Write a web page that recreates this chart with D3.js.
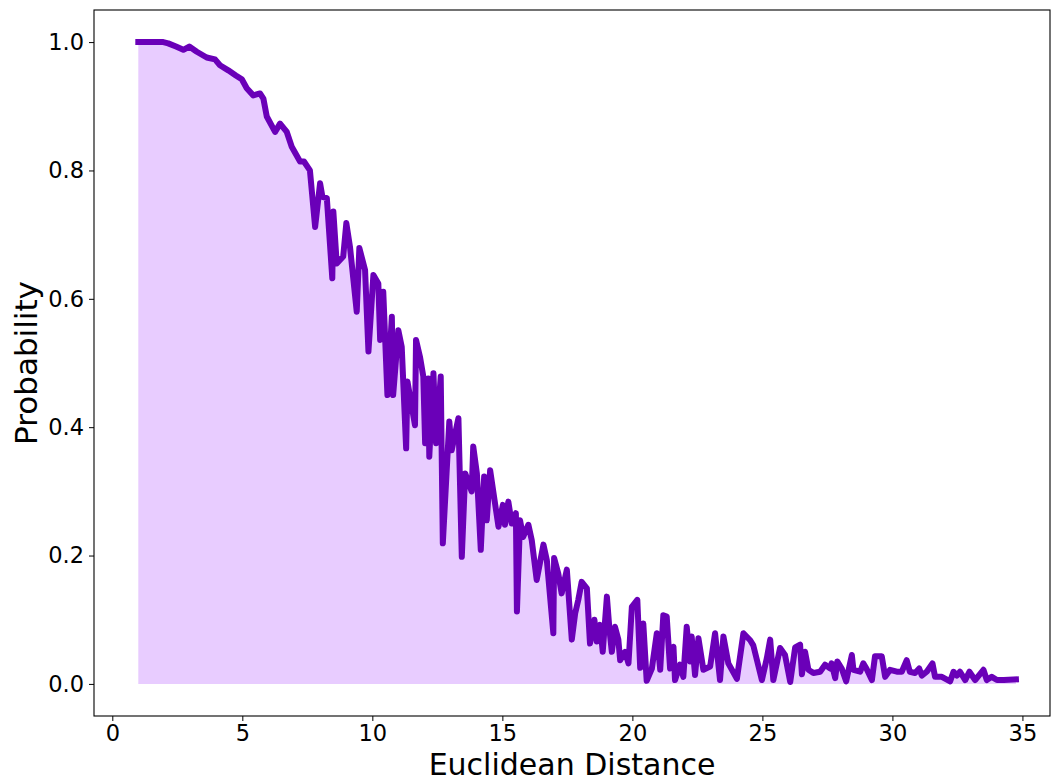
<!DOCTYPE html>
<html>
<head>
<meta charset="utf-8">
<script src="https://cdn.jsdelivr.net/npm/d3@7"></script>
<style>
  body { margin: 0; background: #fff; }
  text { font-family: "DejaVu Sans", sans-serif; }
</style>
</head>
<body>
<svg id="chart" width="1054" height="781"></svg>
<script>
// distance values (x) and probability values (y)
const distance = [
  1.00, 1.50, 1.96, 2.15, 2.45, 2.73, 2.96, 3.25, 3.63, 3.95, 4.14, 4.46, 4.75, 4.98,
  5.17, 5.42, 5.68, 5.81, 5.94, 6.26, 6.45, 6.71, 6.90, 7.22, 7.37, 7.60, 7.80, 7.99,
  8.08, 8.25, 8.46, 8.50, 8.63, 8.88, 9.00, 9.14, 9.40, 9.50, 9.72, 9.85, 10.04, 10.23,
  10.30, 10.42, 10.58, 10.75, 10.80, 11.00, 11.13, 11.30, 11.35, 11.64, 11.68, 11.83,
  11.96, 12.03, 12.15, 12.19, 12.35, 12.45, 12.63, 12.71, 12.96, 13.05, 13.31, 13.44,
  13.57, 13.82, 13.88, 14.02, 14.17, 14.30, 14.40, 14.53, 14.85, 15.02, 15.10, 15.23,
  15.36, 15.52, 15.56, 15.68, 15.80, 16.00, 16.13, 16.32, 16.58, 16.71, 16.96, 16.99,
  17.15, 17.28, 17.48, 17.67, 17.80, 17.92, 18.05, 18.25, 18.37, 18.54, 18.63, 18.76,
  18.86, 19.02, 19.12, 19.21, 19.33, 19.46, 19.53, 19.72, 19.85, 19.98, 20.19, 20.30,
  20.42, 20.55, 20.75, 20.94, 21.07, 21.19, 21.32, 21.45, 21.58, 21.64, 21.83, 21.96,
  22.09, 22.22, 22.28, 22.41, 22.54, 22.73, 22.99, 23.18, 23.37, 23.50, 23.69, 24.02,
  24.27, 24.53, 24.65, 24.98, 25.17, 25.30, 25.42, 25.68, 25.87, 26.07, 26.26, 26.45,
  26.52, 26.64, 26.77, 26.96, 27.22, 27.41, 27.60, 27.66, 27.80, 27.88, 28.05, 28.22,
  28.44, 28.50, 28.76, 28.88, 29.00, 29.21, 29.33, 29.59, 29.72, 29.91, 30.17, 30.36,
  30.55, 30.67, 30.87, 31.03, 31.13, 31.32, 31.54, 31.64, 31.90, 32.22, 32.35, 32.48,
  32.60, 32.80, 32.96, 33.18, 33.50, 33.63, 33.82, 34.02, 34.28, 34.75
];
const probability = [
  1.000, 1.000, 1.000, 0.998, 0.993, 0.988, 0.993, 0.985, 0.976, 0.973, 0.964, 0.956, 0.948, 0.942,
  0.928, 0.917, 0.920, 0.912, 0.884, 0.860, 0.873, 0.860, 0.837, 0.814, 0.814, 0.800, 0.712, 0.780,
  0.759, 0.757, 0.632, 0.736, 0.655, 0.666, 0.718, 0.681, 0.580, 0.679, 0.645, 0.518, 0.637, 0.624,
  0.536, 0.611, 0.450, 0.572, 0.450, 0.551, 0.525, 0.367, 0.471, 0.403, 0.536, 0.510,
  0.479, 0.375, 0.476, 0.354, 0.484, 0.375, 0.479, 0.219, 0.409, 0.364, 0.414, 0.198,
  0.328, 0.300, 0.370, 0.328, 0.209, 0.323, 0.255, 0.333, 0.245, 0.279, 0.248, 0.284,
  0.250, 0.266, 0.113, 0.255, 0.229, 0.248, 0.224, 0.162, 0.217, 0.193, 0.079, 0.196,
  0.172, 0.141, 0.178, 0.069, 0.110, 0.131, 0.159, 0.149, 0.063, 0.100, 0.066, 0.092,
  0.050, 0.136, 0.084, 0.050, 0.089, 0.069, 0.037, 0.050, 0.032, 0.120, 0.131, 0.025,
  0.094, 0.005, 0.024, 0.079, 0.022, 0.107, 0.105, 0.024, 0.058, 0.006, 0.030, 0.011,
  0.089, 0.035, 0.074, 0.014, 0.071, 0.022, 0.027, 0.079, 0.006, 0.074, 0.032, 0.008,
  0.079, 0.068, 0.060, 0.006, 0.040, 0.069, 0.006, 0.056, 0.045, 0.003, 0.057, 0.061,
  0.015, 0.050, 0.022, 0.017, 0.019, 0.030, 0.024, 0.032, 0.009, 0.035, 0.024, 0.004,
  0.045, 0.022, 0.019, 0.032, 0.024, 0.006, 0.043, 0.043, 0.011, 0.022, 0.019, 0.019,
  0.037, 0.019, 0.017, 0.024, 0.013, 0.019, 0.032, 0.011, 0.011, 0.004, 0.019, 0.013,
  0.019, 0.006, 0.019, 0.006, 0.022, 0.006, 0.011, 0.006, 0.006, 0.007
];

const xTicks = [0, 5, 10, 15, 20, 25, 30, 35];
const yTicks = [0.0, 0.2, 0.4, 0.6, 0.8, 1.0];

const lineColor = "#6a00b8";
const fillColor = "#e8ccff";

const data = distance.map((d, i) => ({ xValue: d, yValue: probability[i] }));

const svg = d3.select("#chart");
const plot = { left: 94, right: 1050, top: 10, bottom: 716 };

const xScale = d3.scaleLinear()
    .domain([-0.704, 36.06])
    .range([plot.left, plot.right]);

const yScale = d3.scaleLinear()
    .domain([-0.05, 1.05])
    .range([plot.bottom, plot.top]);

// filled area under the curve
const area = d3.area()
    .x(d => xScale(d.xValue))
    .y0(yScale(0))
    .y1(d => yScale(d.yValue));

svg.append("path")
    .datum(data)
    .attr("d", area)
    .attr("fill", fillColor);

// probability curve
const line = d3.line()
    .x(d => xScale(d.xValue))
    .y(d => yScale(d.yValue));

svg.append("path")
    .datum(data)
    .attr("d", line)
    .attr("fill", "none")
    .attr("stroke", lineColor)
    .attr("stroke-width", 6)
    .attr("stroke-linejoin", "round")
    .attr("stroke-linecap", "square");

// axes
const xAxis = svg.append("g")
    .attr("transform", `translate(0, ${plot.bottom})`)
    .call(d3.axisBottom(xScale).tickValues(xTicks).tickSize(5).tickPadding(4).tickFormat(d3.format("d")));

const yAxis = svg.append("g")
    .attr("transform", `translate(${plot.left}, 0)`)
    .call(d3.axisLeft(yScale).tickValues(yTicks).tickSize(5).tickPadding(5).tickFormat(d3.format(".1f")));

[xAxis, yAxis].forEach(g => {
    g.select(".domain").remove();
    g.selectAll("text").style("font-size", "22.5px").attr("fill", "#000");
    g.selectAll("line").attr("stroke", "#000");
});

// frame
svg.append("rect")
    .attr("x", plot.left)
    .attr("y", plot.top)
    .attr("width", plot.right - plot.left)
    .attr("height", plot.bottom - plot.top)
    .attr("fill", "none")
    .attr("stroke", "#000")
    .attr("stroke-width", 1.1);

// axis labels
svg.append("text")
    .attr("x", (plot.left + plot.right) / 2)
    .attr("y", 775)
    .attr("text-anchor", "middle")
    .style("font-size", "30px")
    .text("Euclidean Distance");

svg.append("text")
    .attr("transform", `translate(37, ${(plot.top + plot.bottom) / 2}) rotate(-90)`)
    .attr("text-anchor", "middle")
    .style("font-size", "31px")
    .text("Probability");
</script>
</body>
</html>
